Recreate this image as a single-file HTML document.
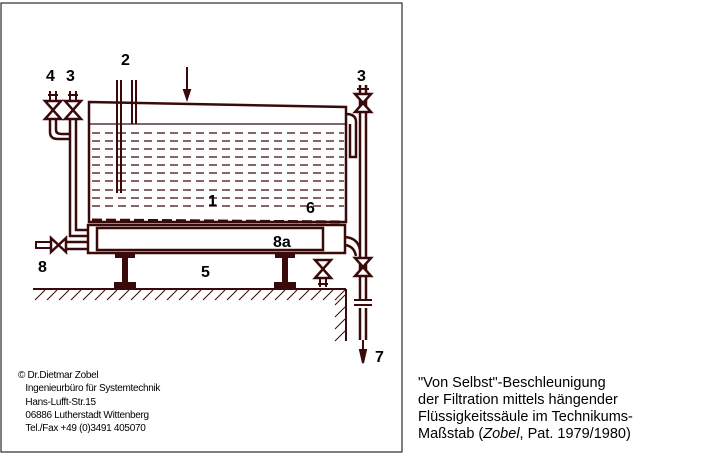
<!DOCTYPE html>
<html><head><meta charset="utf-8"><style>
body{margin:0;background:#fff;width:705px;height:455px;overflow:hidden;font-family:"Liberation Sans",sans-serif}
.cap{position:absolute;left:418px;top:375px;font-size:14.5px;line-height:17px;color:#000}
.adr{position:absolute;left:18px;top:369px;font-size:10px;line-height:13.3px;color:#000;letter-spacing:-0.3px}
</style></head><body>
<svg width="705" height="455" style="position:absolute;left:0;top:0" fill="none" stroke="#3a0a0a" stroke-width="2">
<rect x="1" y="3" width="401" height="449" stroke="#000" stroke-width="1"/>
<!-- tank -->
<path d="M89,102 L346,107 L346,222 L89,222 Z" stroke-width="2.5"/>
<line x1="89" y1="124" x2="346" y2="124" stroke-width="1.3"/>
<g stroke-width="1.3" stroke-dasharray="8,5">
<line x1="92" y1="133" x2="344" y2="133"/><line x1="92" y1="141" x2="344" y2="141"/>
<line x1="92" y1="149" x2="344" y2="149"/><line x1="92" y1="157" x2="344" y2="157"/>
<line x1="92" y1="165" x2="344" y2="165"/><line x1="92" y1="173" x2="344" y2="173"/>
<line x1="92" y1="181" x2="344" y2="181"/><line x1="92" y1="190" x2="344" y2="190"/>
<line x1="92" y1="198" x2="344" y2="198"/><line x1="92" y1="206" x2="344" y2="206"/>
</g>
<line x1="92" y1="220" x2="344" y2="222" stroke-width="3" stroke-dasharray="10,4"/>
<!-- pipe 2 -->
<line x1="117" y1="80" x2="117" y2="193"/><line x1="121" y1="80" x2="121" y2="193"/>
<line x1="132" y1="80" x2="132" y2="124"/><line x1="136" y1="80" x2="136" y2="124"/>
<!-- arrow -->
<line x1="187" y1="67" x2="187" y2="95"/><path d="M184,90 L187,99 L190,90 Z" fill="#3a0a0a"/>
<!-- housing 8a -->
<path d="M88,225 L345,225 L345,253 L88,253 Z" stroke-width="2.5"/>
<rect x="97" y="228" width="226" height="22" stroke-width="2.5"/>
<!-- right overflow -->
<path d="M346,114 Q356,114 356,122 L356,157 L350,157 L350,124" stroke-width="2.5"/>
<!-- right pipe 3 -->
<line x1="360" y1="85" x2="360" y2="300" stroke-width="2.5"/><line x1="366" y1="85" x2="366" y2="300" stroke-width="2.5"/>
<line x1="360" y1="308" x2="360" y2="340" stroke-width="2.5"/><line x1="366" y1="308" x2="366" y2="340" stroke-width="2.5"/>
<line x1="354" y1="300" x2="372" y2="300" stroke-width="2"/><line x1="354" y1="305" x2="372" y2="305" stroke-width="2"/>
<line x1="363" y1="340" x2="363" y2="356"/><path d="M360,350 L363,363 L366,350 Z" fill="#3a0a0a"/>
<path d="M345,237 Q358,238 360,250" stroke-width="2.5"/><path d="M345,245 Q354,246 356,256" stroke-width="2.5"/>
<!-- valves -->
<g fill="#fff" stroke-width="2.5">
<path d="M355,94 L371,94 L355,112 L371,112 Z"/>
<path d="M355,258 L371,258 L355,276 L371,276 Z"/>
<path d="M45,101 L61,101 L45,119 L61,119 Z"/><path d="M65,101 L81,101 L65,119 L81,119 Z"/>
<path d="M315,260 L331,260 L315,278 L331,278 Z"/>
<path d="M51,238 L51,252 L66,238 L66,252 Z"/>
</g>
<g stroke-width="2"><line x1="50" y1="91" x2="50" y2="100"/><line x1="56" y1="91" x2="56" y2="100"/><line x1="48" y1="95" x2="58" y2="95"/>
<line x1="70" y1="91" x2="70" y2="100"/><line x1="76" y1="91" x2="76" y2="100"/><line x1="68" y1="95" x2="78" y2="95"/>
<line x1="360" y1="85" x2="360" y2="93"/><line x1="366" y1="85" x2="366" y2="93"/><line x1="357" y1="89" x2="369" y2="89"/>
<line x1="320" y1="279" x2="320" y2="287"/><line x1="326" y1="279" x2="326" y2="287"/><line x1="318" y1="284" x2="328" y2="284"/>
<line x1="36" y1="241" x2="36" y2="249"/><line x1="36" y1="242" x2="50" y2="242"/><line x1="36" y1="248" x2="50" y2="248"/>
</g>
<!-- left pipes -->
<path d="M50,120 L50,132 Q50,139 58,139 L70,139" stroke-width="2.5"/>
<path d="M56,120 L56,130 Q56,134 62,134 L70,134" stroke-width="2.5"/>
<path d="M70,120 L70,236 L88,236" stroke-width="2.5"/><path d="M76,120 L76,230 L88,230" stroke-width="2.5"/>
<path d="M66,242 L88,242 M66,249 L88,249" stroke-width="2.5"/>
<!-- I beams -->
<g fill="#3a0a0a" stroke="none">
<path d="M115,254 h20 v4 h-7 v24 h8 v6 h-22 v-6 h8 v-24 h-7 z"/>
<path d="M275,254 h20 v4 h-7 v24 h8 v6 h-22 v-6 h8 v-24 h-7 z"/>
</g>
<path d="M118,262 v18 M132,262 v18 M278,262 v18 M292,262 v18" stroke="#fff" stroke-width="1"/>
<!-- ground -->
<line x1="33" y1="289" x2="346" y2="289" stroke-width="2"/>
<line x1="346" y1="289" x2="346" y2="341" stroke-width="2"/>
<g stroke-width="1">
<path d="M35,300 l10,-10 M47,300 l10,-10 M59,300 l10,-10 M71,300 l10,-10 M83,300 l10,-10 M95,300 l10,-10 M107,300 l10,-10 M119,300 l10,-10 M131,300 l10,-10 M143,300 l10,-10 M155,300 l10,-10 M167,300 l10,-10 M179,300 l10,-10 M191,300 l10,-10 M203,300 l10,-10 M215,300 l10,-10 M227,300 l10,-10 M239,300 l10,-10 M251,300 l10,-10 M263,300 l10,-10 M275,300 l10,-10 M287,300 l10,-10 M299,300 l10,-10 M311,300 l10,-10 M323,300 l10,-10 M335,300 l10,-10"/>
<path d="M335,305 l10,-10 M335,317 l10,-10 M335,329 l10,-10 M335,341 l10,-10"/>
</g>
<g fill="#000" stroke="none" font-family="Liberation Sans,sans-serif" font-weight="bold" font-size="16">
<text x="46" y="81">4</text><text x="66" y="81">3</text><text x="121" y="65">2</text>
<text x="357" y="81">3</text><text x="208" y="206">1</text><text x="306" y="213">6</text>
<text x="273" y="247">8a</text><text x="38" y="272">8</text><text x="201" y="277">5</text>
<text x="375" y="362">7</text>
</g>
</svg>
<div class="adr">© Dr.Dietmar Zobel<br>&nbsp;&nbsp;&nbsp;Ingenieurbüro für Systemtechnik<br>&nbsp;&nbsp;&nbsp;Hans-Lufft-Str.15<br>&nbsp;&nbsp;&nbsp;06886 Lutherstadt Wittenberg<br>&nbsp;&nbsp;&nbsp;Tel./Fax +49 (0)3491 405070</div>
<div class="cap">"Von Selbst"-Beschleunigung<br>der Filtration mittels hängender<br>Flüssigkeitssäule im Technikums-<br>Maßstab (<i>Zobel</i>, Pat. 1979/1980)</div>
</body></html>
